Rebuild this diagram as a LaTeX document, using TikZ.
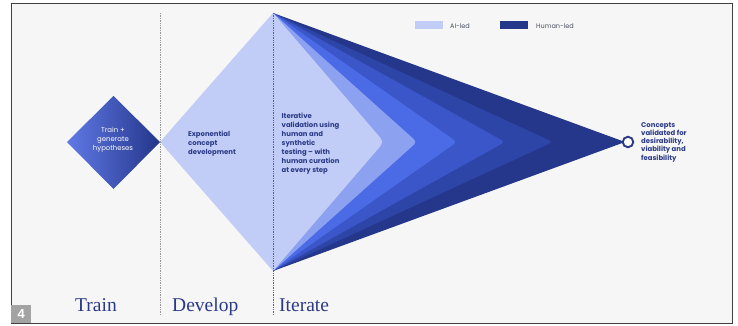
\documentclass[tikz,border=0pt]{standalone}
\usepackage{fontspec}
\setmainfont{Liberation Serif}
\newfontfamily\pop{Poppins}
\newfontfamily\arl{Liberation Sans}
\usetikzlibrary{calc}
\definecolor{navy}{HTML}{2A3A86}
\definecolor{bg}{HTML}{F6F6F6}
\definecolor{cA}{HTML}{C2CDF7}
\definecolor{cB}{HTML}{8CA1EF}
\definecolor{cC}{HTML}{4B6BE6}
\definecolor{cD}{HTML}{3B56C9}
\definecolor{cE}{HTML}{2E45A8}
\definecolor{cF}{HTML}{25378A}
\definecolor{dLeft}{HTML}{6079E6}
\definecolor{dRight}{HTML}{24368A}
\definecolor{leg}{HTML}{4A4F63}
\newcommand\chev[3]{\fill[#1] (T) -- ($(#2,142)!#3!(T)$) .. controls (#2,142) .. ($(#2,142)!#3!(B)$) -- (B) -- cycle;}
\tikzset{
  txt/.style={font=\pop\bfseries\fontsize{6.9}{9}\selectfont, text=navy, align=left, inner sep=0pt},
  wtxt/.style={font=\pop\fontsize{6.9}{8.8}\selectfont, text=white, align=center, inner sep=0pt},
  phase/.style={font=\fontsize{19.5}{22}\selectfont, text=navy, inner sep=0pt, anchor=base west},
  legtxt/.style={font=\pop\fontsize{6.5}{8}\selectfont, text=leg, inner sep=0pt, anchor=base west},
  legbox/.style={minimum width=28pt, minimum height=8pt, inner sep=0pt, anchor=north west},
  sep/.style={densely dotted, line width=0.7pt}
}
\begin{document}
\begin{tikzpicture}[x=1pt,y=-1pt]
\useasboundingbox (0,0) rectangle (738,326);
% frame
\fill[white] (0,0) rectangle (738,326);
\filldraw[fill=bg, draw=black!75, line width=0.9pt] (11,3.5) rectangle (732,323);
% key points
\coordinate (T) at (273,13);
\coordinate (B) at (273,271);
\coordinate (L) at (160,142);
% layered funnel
\fill[cF] (T) -- (625,142) -- (B) -- cycle;
\chev{cE}{553}{9pt}
\chev{cD}{505}{9pt}
\chev{cC}{457}{9pt}
\chev{cB}{417}{9pt}
\fill[cA] (L) -- (T) -- ($(384,142)!11pt!(T)$) .. controls (384,142) .. ($(384,142)!11pt!(B)$) -- (B) -- cycle;
% small diamond
\shade[left color=dLeft, right color=dRight] (67,142) -- (113.5,96) -- (L) -- (113.5,189) -- cycle;
% separators
\draw[sep, draw=black!40] (160,13) -- (160,315);
\draw[sep, draw=cD!80!gray] (T) -- (273,315);
% texts (anchor base = baseline of the last line)
\node[wtxt, anchor=base] (hyp) at (113,150.3) {Train +\\generate\\hypotheses};
\node[txt, anchor=base west] (exp) at (188,154.5) {Exponential\\concept\\development};
\node[txt, anchor=base west] (itv) at (281.5,172.3) {Iterative\\validation using\\human and\\synthetic\\testing – with\\human curation\\at every step};
\node[circle, draw=navy, line width=1.9pt, fill=white, minimum size=10.5pt, inner sep=0pt] (end) at (628,142) {};
\node[txt, font=\pop\bfseries\fontsize{6.9}{8.2}\selectfont, anchor=base west] (con) at (641,160.1) {Concepts\\validated for\\desirability,\\viability and\\feasibility};
% legend
\node[legbox, fill=cA] (ai) at (415,21) {};
\node[legtxt] (ait) at (450,28.5) {AI-led};
\node[legbox, fill=cF] (hu) at (500,21) {};
\node[legtxt] (hut) at (536,28.5) {Human-led};
% phase labels
\node[phase] (train) at (75,311.5) {Train};
\node[phase] (dev) at (172,311.5) {Develop};
\node[phase] (it) at (279,311.5) {Iterate};
% figure number
\node[fill=black!36, minimum width=20pt, minimum height=18pt, inner sep=0pt, anchor=south west, text=white, font=\arl\bfseries\fontsize{13}{13}\selectfont] (num) at (11,323) {4};
\end{tikzpicture}
\end{document}
